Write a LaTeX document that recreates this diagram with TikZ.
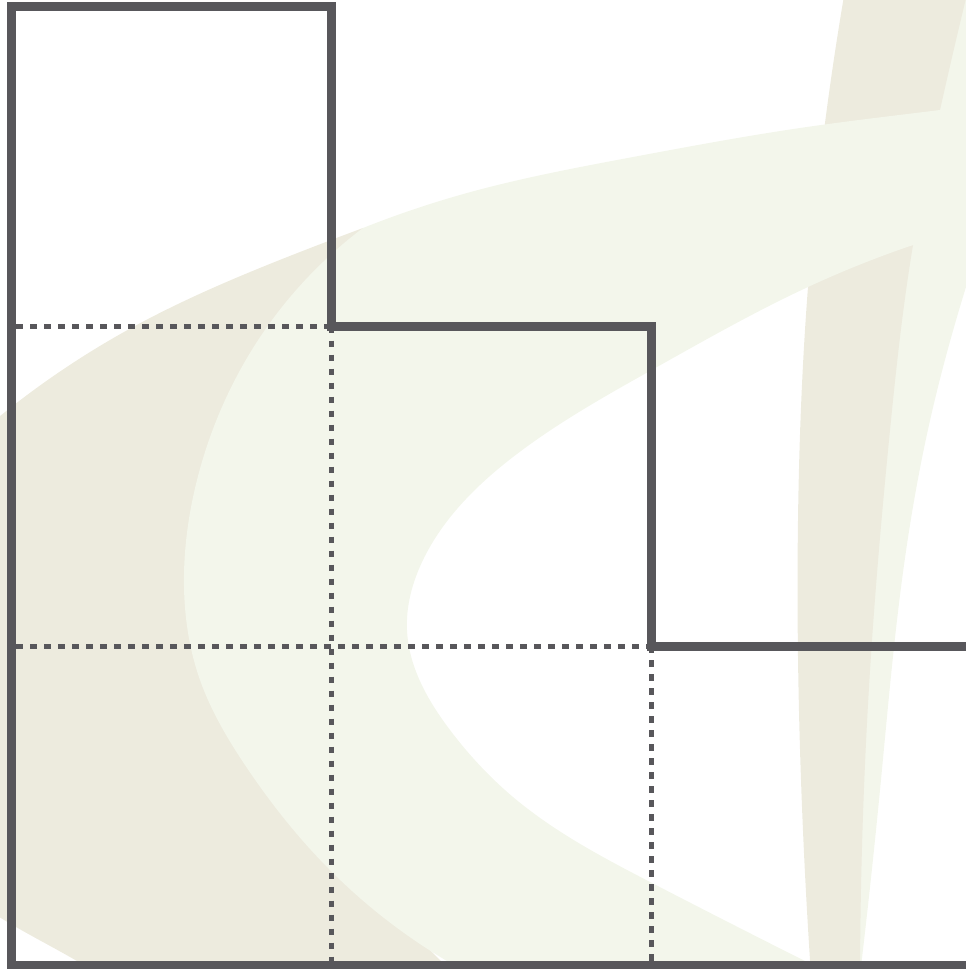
\documentclass[tikz,border=0pt]{standalone}
\usetikzlibrary{hobby}
\definecolor{outlinegrey}{RGB}{88,87,91}
\definecolor{beigebg}{RGB}{237,235,222}
\definecolor{greenbg}{RGB}{243,246,235}
\tikzset{
  outline/.style={draw=outlinegrey, line width=8.8pt, line join=miter},
  gridline/.style={draw=outlinegrey, line width=4.6pt, dash pattern=on 6.5pt off 7.5pt},
  beigefill/.style={fill=beigebg},
  greenfill/.style={fill=greenbg}
}
\begin{document}
\begin{tikzpicture}[x=1pt,y=-1pt]
\useasboundingbox (0,0) rectangle (966,969);
\clip (0,0) rectangle (966,969);

% --- background: green right stroke
\path[greenfill] (850,975) -- (860,975) to[curve through={(880,790) (904,565) (929,425) (966,287)}] (995,200)
  -- (995,-10) -- (900,-10) -- cycle;

% --- background: beige right stroke
\path[beigefill] (845,-10) to[curve through={(825,123) (808,287) (798,520) (801,780)}] (811,975)
  -- (860,975) to[curve through={(872,640) (890,430) (913,245) (940,110)}] (968,-10)
  -- cycle;

% --- background: beige left crescent
\path[beigefill] (363,228) to[curve through={(300,252) (133,327)}] (-12,426)
  -- (-12,910) to[curve through={(16,927) (77,961)}] (100,975)
  -- (455,975) -- (380,900) -- (300,780) -- (280,600) -- (300,420) -- cycle;

% --- background: green crescent (top band and outer edge)
\path[greenfill] (995,103) to[curve through={(940,110) (800,128) (633,157) (467,193)}] (363,228)
  -- (363,228.5) -- (700,300) -- (913,245) -- (995,240) -- cycle;
\path[greenfill] (363,228)
  to[curve through={(267,327) (197,480) (184,575) (200,680) (245,765) (333,873)}] (447,961)
  -- (466,978) -- (812,978) -- (807,962)
  to[curve through={(652,883) (513,797) (450,730) (407,630) (423,560) (513,457) (657,367) (808,287)}] (913,245)
  -- (995,232) -- cycle;

% --- grid corners
\coordinate (tl) at (11.3,6.8);
\coordinate (tr) at (331.3,6.8);
\coordinate (a) at (331.3,326.7);
\coordinate (b) at (651.5,326.7);
\coordinate (c) at (651.5,646.3);
\coordinate (cr) at (980,646.3);
\coordinate (bl) at (11.3,965.5);
\coordinate (br) at (980,965.5);
\coordinate (l1) at (16,326.7);
\coordinate (l2) at (16,646.3);
\coordinate (ab) at (331.3,962);
\coordinate (cb) at (651.5,962);

% --- dotted inner cell lines
\draw[gridline] (l1) -- (a);
\draw[gridline] (l2) -- (c);
\draw[gridline] (a) -- (ab);
\draw[gridline] (c) -- (cb);

% --- thick outline
\draw[outline] (cr) -- (c) -- (b) -- (a) -- (tr) -- (tl) -- (bl) -- (br);
\end{tikzpicture}
\end{document}
